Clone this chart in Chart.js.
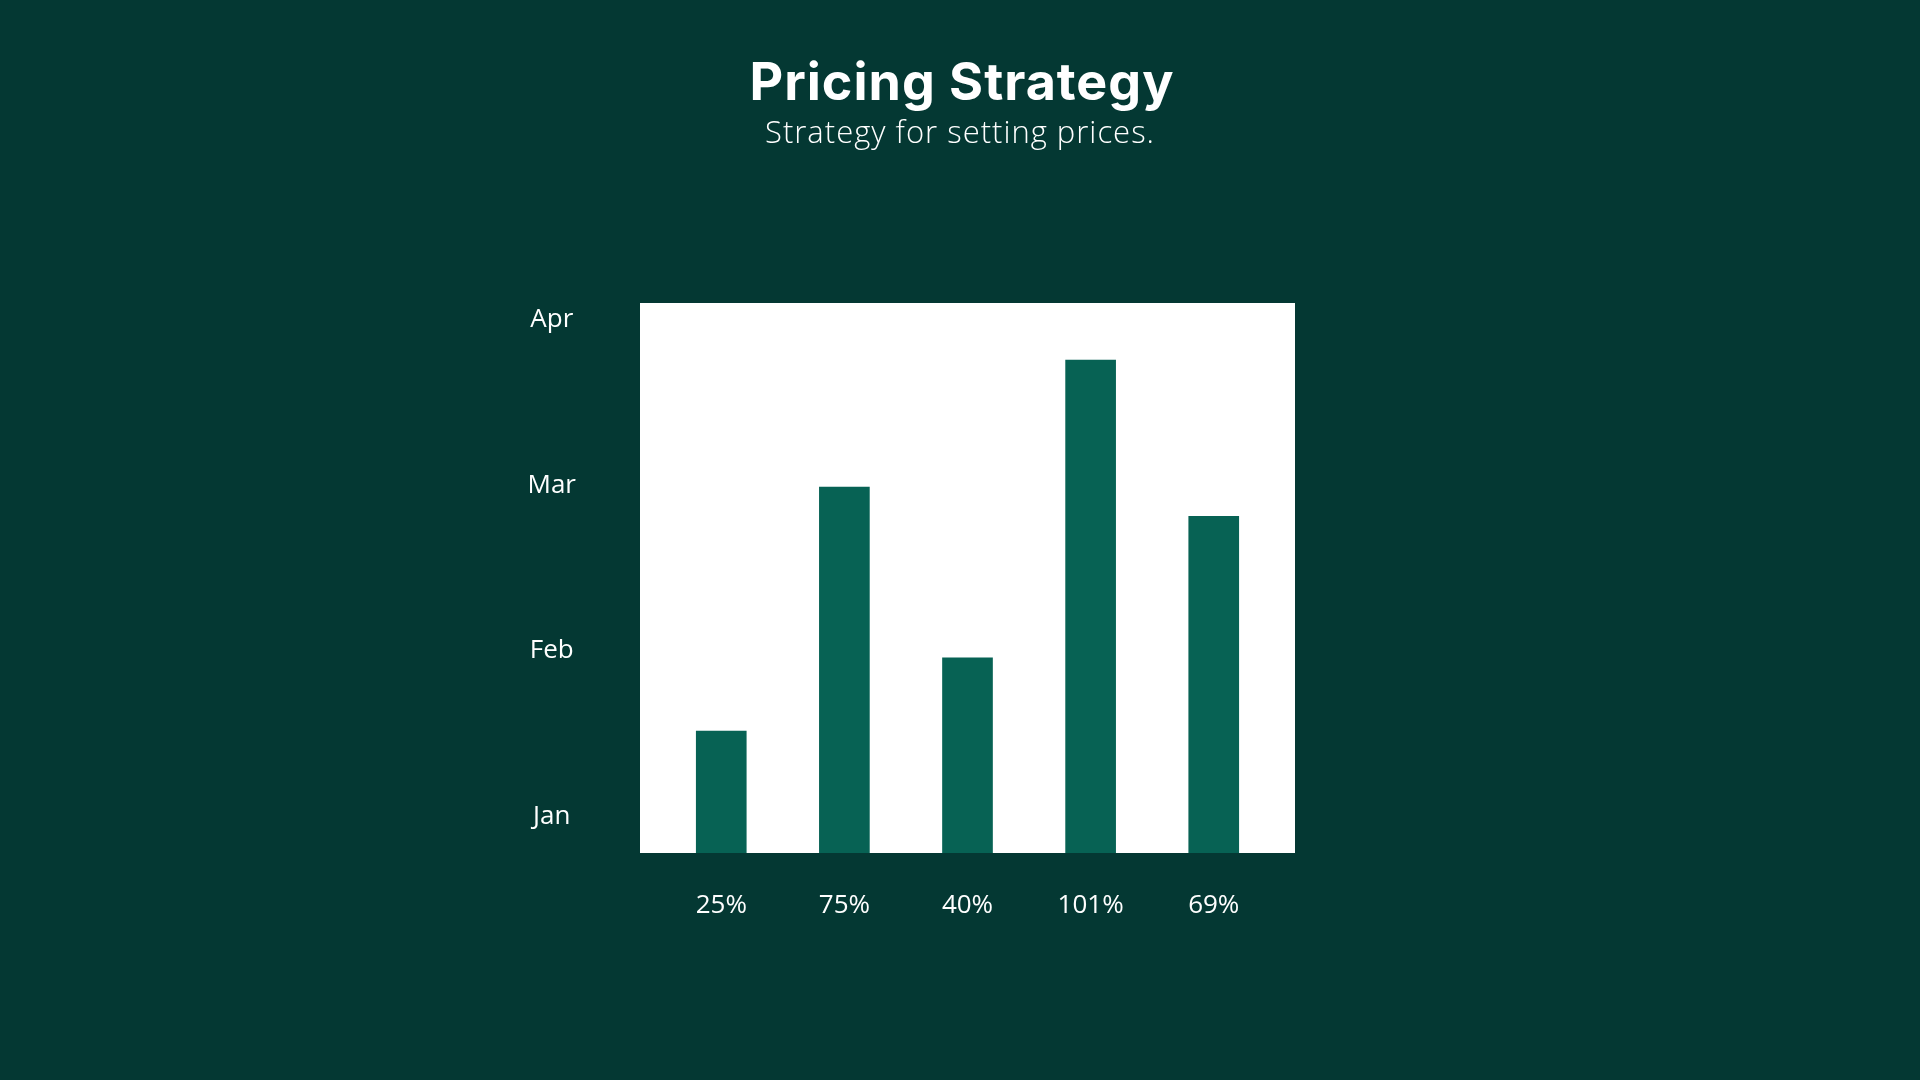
<!DOCTYPE html>
<html>
<head>
<meta charset="utf-8">
<title>Pricing Strategy</title>
<script src="https://cdn.jsdelivr.net/npm/chart.js@4.4.1/dist/chart.umd.min.js"></script>
<style>
  html, body { margin: 0; padding: 0; background: #043833; }
  canvas { display: block; }
</style>
</head>
<body>
<canvas id="pricing-chart" width="1920" height="1080"></canvas>
<script>
// Chart data
const rateLabels = ["25%", "75%", "40%", "101%", "69%"];
const rateValues = [25, 75, 40, 101, 69];
const monthLabels = ["Jan", "Feb", "Mar", "Apr"];
const titleText = "Pricing Strategy";
const subtitleText = "Strategy for setting prices.";

const BG = "#043833";
const BAR = "#076254";

// White plot background
const plotBackground = {
    id: "plotBackground",
    beforeDraw(chart) {
        const { ctx, chartArea } = chart;
        ctx.save();
        ctx.fillStyle = "#ffffff";
        ctx.fillRect(chartArea.left, chartArea.top, chartArea.right - chartArea.left, chartArea.bottom - chartArea.top);
        ctx.restore();
    },
};

// Title + subtitle centred on the page (not on the chart area)
const header = {
    id: "header",
    afterDraw(chart) {
        const { ctx, width } = chart;
        ctx.save();
        ctx.fillStyle = "#ffffff";
        ctx.textAlign = "center";
        ctx.textBaseline = "alphabetic";
        ctx.letterSpacing = "1px";
        ctx.font = "bold 52px Inter, sans-serif";
        ctx.fillText(titleText, width / 2 + 2, 100);
        ctx.font = "300 31px 'Open Sans', sans-serif";
        ctx.fillText(subtitleText, width / 2, 143);
        ctx.restore();
    },
};

const tickFont = { family: "'Open Sans', sans-serif", size: 26, weight: "500" };

const pricingChart = new Chart(document.getElementById("pricing-chart"), {
    type: "bar",
    data: {
        datasets: [
            {
                data: rateValues.map((v, i) => ({ x: i, y: v })),
                backgroundColor: BAR,
                barThickness: 50,
                yAxisID: "y",
            },
        ],
    },
    options: {
        responsive: false,
        animation: false,
        layout: { padding: { left: 500, right: 625, top: 303, bottom: 147 } },
        plugins: {
            legend: { display: false },
            tooltip: { enabled: false },
        },
        scales: {
            x: {
                type: "linear",
                offset: false,
                min: -0.66,
                max: 4.66,
                grid: { display: false, drawTicks: false, offset: false },
                border: { display: false },
                afterBuildTicks: (axis) => {
                    axis.ticks = rateLabels.map((_, i) => ({ value: i }));
                },
                afterFit: (axis) => { axis.height = 80; },
                ticks: {
                    color: "#ffffff",
                    font: tickFont,
                    padding: 37,
                    maxRotation: 0,
                    callback: (value) => rateLabels[value],
                },
            },
            y: {
                display: false,
                min: 0,
                max: 112.7,
            },
            y2: {
                type: "linear",
                position: "left",
                min: -0.2206,
                max: 3.1014,
                grid: { display: false, drawTicks: false },
                border: { display: false },
                afterBuildTicks: (axis) => {
                    axis.ticks = monthLabels.map((_, i) => ({ value: i }));
                },
                afterFit: (axis) => { axis.width = 140; },
                ticks: {
                    color: "#ffffff",
                    font: tickFont,
                    padding: 64,
                    crossAlign: "center",
                    callback: (value) => monthLabels[value],
                },
            },
        },
    },
    plugins: [plotBackground, header],
});
</script>
</body>
</html>
